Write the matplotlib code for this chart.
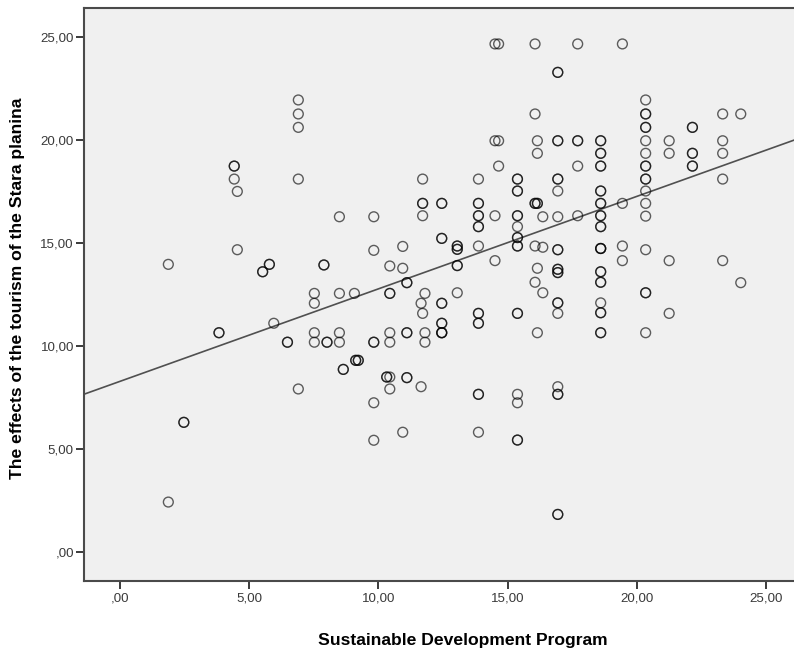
import matplotlib
matplotlib.use("Agg")
import matplotlib.pyplot as plt
import numpy as np

plt.rcParams['font.family'] = ['Liberation Sans', 'DejaVu Sans']

# Data: (x value, list of y values); repeated y values = overlapping cases
columns = [
    (1.87, [13.95, 2.41]),
    (2.47, [6.28, 6.28]),
    (3.83, [10.63, 10.63]),
    (4.42, [18.72, 18.72, 18.09]),
    (4.54, [17.49, 14.66]),
    (5.52, [13.59, 13.59]),
    (5.78, [13.95, 13.95]),
    (5.95, [11.09]),
    (6.48, [10.17, 10.17]),
    (6.90, [21.93, 21.25, 20.60, 18.09, 7.90]),
    (7.52, [12.54, 12.06, 10.63, 10.17]),
    (7.89, [13.92, 13.92]),
    (8.01, [10.17, 10.17]),
    (8.49, [16.26, 12.54, 10.63, 10.17]),
    (8.64, [8.85, 8.85]),
    (9.07, [12.54]),
    (9.12, [9.29, 9.29]),
    (9.22, [9.29, 9.29]),
    (9.82, [16.26, 14.63, 10.17, 10.17, 7.23, 5.41]),
    (10.32, [8.48, 8.48]),
    (10.44, [13.87, 12.54, 12.54, 10.63, 10.17, 8.48, 7.90]),
    (10.94, [14.82, 13.76, 5.80]),
    (11.10, [13.06, 13.06, 10.63, 10.63, 8.45, 8.45]),
    (11.65, [12.06, 8.01]),
    (11.71, [18.09, 16.91, 16.91, 16.31, 11.57]),
    (11.80, [12.54, 10.63, 10.17]),
    (12.45, [16.91, 16.91, 15.21, 15.21, 12.06, 12.06, 11.09, 11.09,
             10.63, 10.63, 10.63]),
    (13.05, [14.84, 14.84, 14.68, 14.68, 13.89, 13.89, 12.57]),
    (13.87, [18.09, 16.91, 16.91, 16.31, 16.31, 15.78, 15.78, 14.84,
             11.57, 11.57, 11.09, 11.09, 7.64, 7.64, 5.80]),
    (14.51, [24.65, 19.95, 16.31, 14.13]),
    (14.65, [24.65, 19.95, 18.72]),
    (15.38, [18.09, 18.09, 17.51, 17.51, 16.31, 16.31, 15.78, 15.25, 15.25,
             14.84, 14.84, 11.57, 11.57, 7.64, 7.23, 5.42, 5.42]),
    (16.06, [24.65, 21.25, 16.91, 16.91, 14.84, 13.08]),
    (16.15, [19.95, 19.34, 16.91, 16.91, 13.76, 10.63]),
    (16.36, [16.26, 14.78, 12.57]),
    (16.94, [23.27, 23.27, 19.95, 19.95, 18.09, 18.09, 17.51, 16.26,
             14.66, 14.66, 13.71, 13.71, 13.55, 13.55, 12.08, 12.08, 11.57,
             8.01, 7.64, 7.64, 1.81, 1.81]),
    (17.71, [24.65, 19.95, 19.95, 18.72, 16.31]),
    (18.60, [19.95, 19.95, 19.34, 19.34, 18.72, 18.72, 17.51, 17.51,
             16.91, 16.91, 16.31, 16.31, 15.78, 15.78, 14.72, 14.72, 14.72,
             13.59, 13.59, 13.08, 13.08, 12.08, 11.60, 11.60, 10.63, 10.63]),
    (19.44, [24.65, 16.91, 14.84, 14.13]),
    (20.34, [21.93, 21.25, 21.25, 20.60, 20.60, 19.95, 19.34, 18.72, 18.72,
             18.09, 18.09, 17.51, 16.91, 16.29, 14.66, 12.57, 12.57, 10.63]),
    (21.25, [19.95, 19.34, 14.13, 11.57]),
    (22.15, [20.60, 20.60, 19.34, 19.34, 18.72, 18.72]),
    (23.32, [21.25, 19.95, 19.34, 18.09, 14.13]),
    (24.02, [21.25, 13.06]),
]

fit_intercept = 8.27
fit_slope = 0.449

x_ticks = [0, 5, 10, 15, 20, 25]
x_tick_labels = [',00', '5,00', '10,00', '15,00', '20,00', '25,00']
y_ticks = [0, 5, 10, 15, 20, 25]
y_tick_labels = [',00', '5,00', '10,00', '15,00', '20,00', '25,00']

x_label = 'Sustainable Development Program'
y_label = 'The effects of the tourism of the Stara planina'

xs = np.array([c[0] for c in columns for _ in c[1]])
ys = np.array([y for c in columns for y in c[1]])

W, H = 794, 652
fig = plt.figure(figsize=(W / 100, H / 100), dpi=100)
fig.patch.set_facecolor('white')
ax = fig.add_axes([84 / W, 1 - 580.5 / H, 1 - 84 / W, (580.5 - 8.3) / H])
ax.set_facecolor('#f0f0f0')

xlim = (-1.393, 26.08)
ylim = (-1.398, 26.38)
ax.set_xlim(*xlim)
ax.set_ylim(*ylim)

ax.scatter(xs, ys, s=50, facecolors='none', edgecolors=(0, 0, 0, 0.62),
           linewidths=1.0, zorder=3)

lx = np.array(xlim)
ax.plot(lx, fit_intercept + fit_slope * lx, color='#505050', lw=1.2, zorder=2)

ax.set_xticks(x_ticks)
ax.set_xticklabels(x_tick_labels)
ax.set_yticks(y_ticks)
ax.set_yticklabels(y_tick_labels)
ax.tick_params(direction='out', length=5.8, width=1.4, color='#3a3a3a',
               labelsize=9.6, labelcolor='#3a3a3a')
ax.tick_params(axis='x', pad=3)
ax.tick_params(axis='y', pad=1.5)

for side in ['left', 'bottom', 'top']:
    ax.spines[side].set_color('#4a4a4a')
    ax.spines[side].set_linewidth(1.5)
ax.spines['right'].set_visible(False)

fig.text(463 / W, 1 - 640 / H, x_label, ha='center', va='center',
         fontsize=12.6, fontweight='bold', color='black')
fig.text(18 / W, 1 - 288 / H, y_label, ha='center', va='center',
         rotation=90, fontsize=12.6, fontweight='bold', color='black')

fig.savefig('out.png', dpi=100)
